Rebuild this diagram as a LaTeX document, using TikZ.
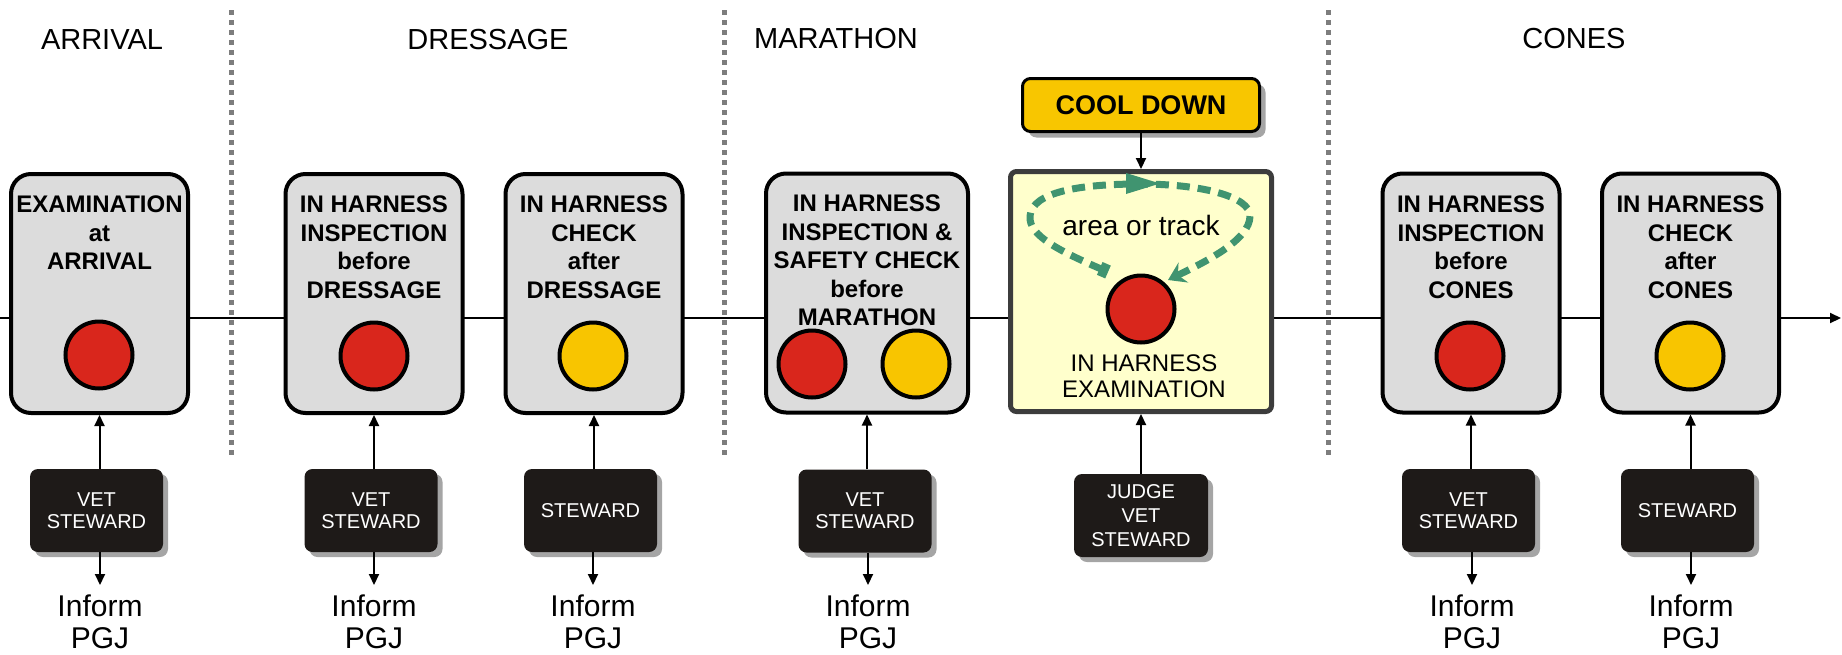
\documentclass[tikz,border=0pt]{standalone}
\usepackage{fontspec}
\setmainfont{Liberation Sans}
\usetikzlibrary{arrows.meta,shadows}
\definecolor{boxgray}{RGB}{220,220,220}
\definecolor{dotred}{RGB}{217,38,28}
\definecolor{dotyellow}{RGB}{248,197,0}
\definecolor{paleyellow}{RGB}{255,255,204}
\definecolor{framegray}{RGB}{60,60,60}
\definecolor{blackbox}{RGB}{30,26,24}
\definecolor{shadowgray}{RGB}{165,165,165}
\definecolor{loopgreen}{RGB}{64,148,112}
\definecolor{coolyellow}{RGB}{248,198,0}
\definecolor{sepgray}{RGB}{125,125,125}
\begin{document}
\begin{tikzpicture}[x=1pt,y=-1pt,
  stagebox/.style={draw=black, line width=4pt, fill=boxgray, rounded corners=20pt,
    minimum width=177pt, minimum height=239pt, inner sep=0pt},
  dotbase/.style={circle, draw=black, line width=4pt, minimum size=67pt, inner sep=0pt},
  reddot/.style={dotbase, fill=dotred},
  yellowdot/.style={dotbase, fill=dotyellow},
  boxtext/.style={font=\bfseries\fontsize{24}{28.5}\selectfont, align=center, inner sep=0pt, anchor=north},
  staff/.style={fill=blackbox, rounded corners=8pt, minimum width=133pt, minimum height=83pt,
    inner sep=0pt, text=white, align=center, font=\fontsize{20}{22}\selectfont,
    drop shadow={shadow xshift=5pt, shadow yshift=-5pt, fill=shadowgray, opacity=1}},
  informtext/.style={font=\fontsize{30}{31.5}\selectfont, align=center, inner sep=0pt, anchor=north},
  titletext/.style={font=\fontsize{29}{34}\selectfont, inner sep=0pt, anchor=base},
  conn/.style={line width=2pt, -{Triangle[length=11pt,width=10pt]}},
  sepline/.style={draw=sepgray, line width=5pt, dash pattern=on 5pt off 5pt},
  loopline/.style={draw=loopgreen, line width=7pt, dash pattern=on 13pt off 8pt}
]
\useasboundingbox (0,0) rectangle (1842,654);

% main time line
\coordinate (lstart) at (0,318);
\coordinate (lend) at (1841,318);
\draw[conn] (lstart) -- (lend);

% separators
\coordinate (s1t) at (231,10); \coordinate (s1b) at (231,455);
\coordinate (s2t) at (724,10); \coordinate (s2b) at (724,455);
\coordinate (s3t) at (1328,10); \coordinate (s3b) at (1328,455);
\draw[sepline] (s1t) -- (s1b);
\draw[sepline] (s2t) -- (s2b);
\draw[sepline] (s3t) -- (s3b);

% titles
\node[titletext] (tarr) at (102,49) {ARRIVAL};
\node[titletext] (tdre) at (488,49) {DRESSAGE};
\node[titletext] (tmar) at (836,48) {MARATHON};
\node[titletext] (tcon) at (1574,48) {CONES};

% stage boxes
\node[stagebox] (g1) at (99.5,293.5) {};
\node[stagebox] (g2) at (374,293.5) {};
\node[stagebox] (g3) at (594,293.5) {};
\node[stagebox, minimum width=202pt] (g4) at (867,293) {};
\node[stagebox] (g6) at (1471,293) {};
\node[stagebox] (g7) at (1690.5,293) {};

\node[boxtext] (x1) at (99.5,196) {EXAMINATION\\at\\ARRIVAL};
\node[boxtext] (x2) at (374,196) {IN HARNESS\\INSPECTION\\before\\DRESSAGE};
\node[boxtext] (x3) at (594,196) {IN HARNESS\\CHECK\\after\\DRESSAGE};
\node[boxtext] (x4) at (867,195) {IN HARNESS\\INSPECTION \&\\SAFETY CHECK\\before\\MARATHON};
\node[boxtext] (x6) at (1471,196) {IN HARNESS\\INSPECTION\\before\\CONES};
\node[boxtext] (x7) at (1690.5,196) {IN HARNESS\\CHECK\\after\\CONES};

\node[reddot] (c1) at (99,355) {};
\node[reddot] (c2) at (374,356) {};
\node[yellowdot] (c3) at (593,356) {};
\node[reddot] (c4a) at (812,364) {};
\node[yellowdot] (c4b) at (916,364) {};
\node[reddot] (c6) at (1470,356) {};
\node[yellowdot] (c7) at (1690,356) {};

% marathon examination area
\node[draw=framegray, line width=5pt, fill=paleyellow, rounded corners=6pt,
  minimum width=261pt, minimum height=240pt, inner sep=0pt] (g5) at (1141,291.5) {};
\node[draw=black, line width=3pt, fill=coolyellow, rounded corners=8pt,
  minimum width=237pt, minimum height=53pt, inner sep=0pt,
  font=\bfseries\fontsize{27}{30}\selectfont,
  drop shadow={shadow xshift=6pt, shadow yshift=-6pt, fill=shadowgray, opacity=1}] (cool) at (1141,105) {COOL DOWN};
\draw[conn] (cool.south) -- (g5.north);

\node[font=\fontsize{28}{32}\selectfont, inner sep=0pt, anchor=base] (track) at (1141,235) {area or track};
\node[reddot] (c5) at (1141,309) {};
\node[font=\fontsize{24}{26}\selectfont, align=center, inner sep=0pt, anchor=north] (x5) at (1144,355) {IN HARNESS\\EXAMINATION};

\coordinate (la) at (1108,272);
\coordinate (lb) at (1030,216);
\coordinate (lc) at (1140,184);
\coordinate (ld) at (1250,216);
\coordinate (le) at (1168,280);
\draw[loopline, {Square[length=9pt,width=14pt]}-{Stealth[length=17pt,width=22pt,inset=6pt]}]
  (la) .. controls (1062,252) and (1028,236) .. (lb)
  .. controls (1032,192) and (1080,184) .. (lc)
  .. controls (1200,184) and (1250,196) .. (ld)
  .. controls (1250,240) and (1205,262) .. (le);
\fill[loopgreen] (1126,173) -- (1160,183.5) -- (1126,194) -- cycle;

% staff boxes
\node[staff] (b1) at (96.5,510.5) {VET\\STEWARD};
\node[staff] (b2) at (371,510.5) {VET\\STEWARD};
\node[staff] (b3) at (590.5,510.5) {STEWARD};
\node[staff] (b4) at (865,511) {VET\\STEWARD};
\node[staff, font=\fontsize{20}{24}\selectfont, minimum width=134pt] (b5) at (1141,515.5) {JUDGE\\VET\\STEWARD};
\node[staff] (b6) at (1468.5,510.5) {VET\\STEWARD};
\node[staff] (b7) at (1687.5,510.5) {STEWARD};

\foreach \i in {1,2,3,4,5,6,7} {
  \draw[conn] (b\i.north -| g\i.south) -- (g\i.south);
}

% inform
\node[informtext] (i1) at (100,595) {Inform\\PGJ};
\node[informtext] (i2) at (374,595) {Inform\\PGJ};
\node[informtext] (i3) at (593,595) {Inform\\PGJ};
\node[informtext] (i4) at (868,595) {Inform\\PGJ};
\node[informtext] (i6) at (1472,595) {Inform\\PGJ};
\node[informtext] (i7) at (1691,595) {Inform\\PGJ};
\foreach \i in {1,2,3,4,6,7} {
  \draw[conn, shorten >=10pt] (b\i.south -| i\i.north) -- (i\i.north);
}
\end{tikzpicture}
\end{document}
